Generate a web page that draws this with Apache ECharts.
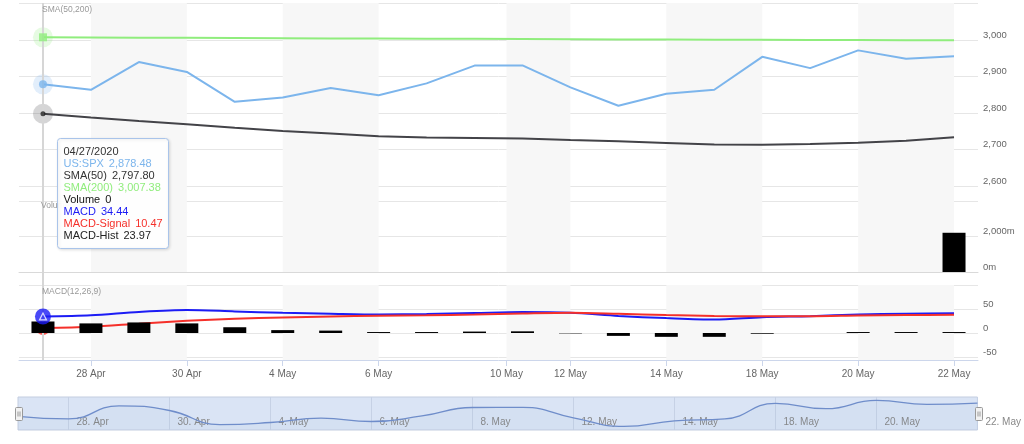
<!DOCTYPE html>
<html><head><meta charset="utf-8">
<script src="https://cdn.jsdelivr.net/npm/echarts@6/dist/echarts.min.js"></script>
<style>html,body{margin:0;padding:0;background:#fff}#c{width:1024px;height:444px}</style>
</head><body><div id="c"></div>
<script>
// ---------- data ----------
const dates = ['2020-04-27','2020-04-28','2020-04-29','2020-04-30','2020-05-01','2020-05-04','2020-05-05','2020-05-06','2020-05-07','2020-05-08','2020-05-11','2020-05-12','2020-05-13','2020-05-14','2020-05-15','2020-05-18','2020-05-19','2020-05-20','2020-05-21','2020-05-22'];
const spx = [2878.48,2863.39,2939.51,2912.43,2830.71,2842.74,2868.44,2848.42,2881.19,2929.80,2930.32,2870.12,2820.00,2852.50,2863.70,2953.91,2922.94,2971.61,2948.51,2955.45];
const sma50 = [2797.80,2787.9,2778.3,2769.2,2759.6,2750.8,2744.0,2736.0,2733.0,2731.6,2730.0,2726.0,2722.5,2718.0,2714.0,2713.0,2715.0,2718.7,2724.0,2733.5];
const sma200 = [3007.38,3006.9,3006.4,3005.9,3005.3,3004.9,3004.4,3004.0,3003.5,3003.1,3002.6,3002.2,3001.7,3001.3,3000.8,3000.4,3000.1,2999.7,2999.4,2999.0];
const volume = [0,0,0,0,0,0,0,0,0,0,0,0,0,0,0,0,0,0,0,2210]; // millions
const macd = [34.44,37,44,48,45,42,40,38.5,39.5,41.5,43.5,42,35.5,31,28,33,35,38.5,40,41];
const macdSignal = [10.47,13,19.5,25.5,29.5,32.5,34.5,36,37,38.5,40.5,42,40,37.5,35.5,35,35,36.5,37.5,38];
const macdHist = [23.97,20,22,20,12,6,5,2,2,3,3.5,-0.8,-6,-8,-8,-1.5,0,2,2,2];
const axisTickLabels = ['28 Apr','30 Apr','4 May','6 May','10 May','12 May','14 May','18 May','20 May','22 May'];
const navTickLabels = ['28. Apr','30. Apr','4. May','6. May','8. May','12. May','14. May','18. May','20. May','22. May'];
const priceLabels = [2600,2700,2800,2900,3000];
const volumeLabels = [0,2000];
const macdLabels = [-50,0,50];

// ---------- helpers ----------
const FONT = '"Liberation Sans", Arial, sans-serif';
const MONTHS = {Jan:0,Feb:1,Mar:2,Apr:3,May:4,Jun:5};
const dayMs = dates.map(d => Date.parse(d + 'T00:00:00Z'));
function ordinalPos(label){
  const p = label.replace('.', '').split(' ');
  const t = Date.UTC(2020, MONTHS[p[1]], +p[0]);
  for (let i = 0; i < dayMs.length; i++){
    if (dayMs[i] === t) return i;
    if (i < dayMs.length - 1 && t > dayMs[i] && t < dayMs[i+1]) return i + (t - dayMs[i]) / (dayMs[i+1] - dayMs[i]);
  }
  return 0;
}
const tickPos = axisTickLabels.map(ordinalPos);
const navPos = navTickLabels.map(ordinalPos);
function labelAt(list, pos, v){ let k = 0, b = 1e9; pos.forEach((p, i) => { const d = Math.abs(p - v); if (d < b){ b = d; k = i; } }); return list[k]; }
const bands = [];
for (let i = 0; i + 1 < tickPos.length; i += 2) bands.push([{xAxis: tickPos[i]}, {xAxis: tickPos[i+1]}]);
const xy = arr => arr.map((v, i) => [i, v]);
const f2 = v => v.toLocaleString('en-US', {minimumFractionDigits: 2, maximumFractionDigits: 2});
const fmtDate = d => { const p = d.split('-'); return p[1] + '/' + p[2] + '/' + p[0]; };

const hiddenX = g => ({type: 'value', gridIndex: g, min: -0.5, max: 19.5, show: false});
const hiddenY = g => ({type: 'value', gridIndex: g, min: 0, max: 1, show: false});
const yLabel = {color: '#666', fontSize: 9.5, fontFamily: FONT, margin: 5, verticalAlign: 'bottom'};
const L = 19, R = 46;

const chart = echarts.init(document.getElementById('c'));
const option = {
  animation: false,
  backgroundColor: '#fff',
  grid: [
    {left: L, right: R, top: 3, height: 269},
    {left: L, right: R, top: 285, height: 75},
    {left: L, right: R, top: 3, height: 357},
    {left: L, right: R, top: 3.5, height: 182.5},
    {left: L, right: R, top: 201, height: 71},
    {left: L, right: R, top: 285, height: 72},
    {left: 18, right: R, top: 397, height: 33, show: true, backgroundColor: '#dae4f5', borderColor: '#c3cde0', borderWidth: 1}
  ],
  xAxis: [
    hiddenX(0), hiddenX(1), hiddenX(2), hiddenX(3),
    {type: 'value', gridIndex: 4, min: -0.5, max: 19.5, axisLine: {show: true, onZero: false, lineStyle: {color: '#d9d9d9'}}, axisTick: {show: false}, axisLabel: {show: false}, splitLine: {show: false}},
    {type: 'value', gridIndex: 5, min: -0.5, max: 19.5, offset: 3,
      axisLine: {show: true, onZero: false, lineStyle: {color: '#ccd6eb'}},
      axisTick: {show: true, length: 6, customValues: tickPos, lineStyle: {color: '#ccd6eb'}},
      axisLabel: {customValues: tickPos, formatter: v => labelAt(axisTickLabels, tickPos, v), color: '#666', fontSize: 10, fontFamily: FONT, margin: 9},
      splitLine: {show: false}},
    {type: 'value', gridIndex: 6, min: 0, max: 19,
      axisLine: {show: false}, axisTick: {show: false, customValues: navPos},
      axisLabel: {inside: true, customValues: navPos, formatter: v => labelAt(navTickLabels, navPos, v), color: '#888', fontSize: 10, fontFamily: FONT, margin: 3, align: 'left', padding: [0, 0, 0, 8], verticalAlign: 'bottom'},
      splitLine: {show: true, lineStyle: {color: '#c6d1e5', width: 1}}}
  ],
  yAxis: [
    hiddenY(0), hiddenY(1), hiddenY(2),
    {type: 'value', gridIndex: 3, position: 'right', min: 2600, max: 3100, interval: 100,
      axisLine: {show: false}, axisTick: {show: false},
      splitLine: {lineStyle: {color: '#e6e6e6'}},
      axisLabel: Object.assign({customValues: priceLabels, formatter: v => v.toLocaleString('en-US')}, yLabel)},
    {type: 'value', gridIndex: 4, position: 'right', min: 0, max: 4000, interval: 2000,
      axisLine: {show: false}, axisTick: {show: false},
      splitLine: {lineStyle: {color: '#e6e6e6'}},
      axisLabel: Object.assign({customValues: volumeLabels, formatter: v => v.toLocaleString('en-US') + 'm'}, yLabel)},
    {type: 'value', gridIndex: 5, position: 'right', min: -50, max: 100, interval: 50,
      axisLine: {show: false}, axisTick: {show: false},
      splitLine: {lineStyle: {color: '#e6e6e6'}},
      axisLabel: Object.assign({customValues: macdLabels, formatter: v => String(v)}, yLabel)},
    {type: 'value', gridIndex: 6, min: 2799, max: 2991, show: false}
  ],
  series: [
    {type: 'line', xAxisIndex: 0, yAxisIndex: 0, data: [], silent: true, z: -5,
      markArea: {silent: true, itemStyle: {color: '#f7f7f7'}, data: bands}},
    {type: 'line', xAxisIndex: 1, yAxisIndex: 1, data: [], silent: true, z: -5,
      markArea: {silent: true, itemStyle: {color: '#f7f7f7'}, data: bands}},
    {type: 'line', xAxisIndex: 2, yAxisIndex: 2, data: [], silent: true, z: 1,
      markLine: {silent: true, symbol: ['none', 'none'], label: {show: false}, lineStyle: {color: '#d6d6d6', width: 2, type: 'solid'}, data: [{xAxis: 0}]}},
    {name: 'SMA(200)', type: 'line', xAxisIndex: 3, yAxisIndex: 3, data: xy(sma200), showSymbol: false, lineStyle: {color: '#90ed7d', width: 2}, z: 3},
    {name: 'US:SPX', type: 'line', xAxisIndex: 3, yAxisIndex: 3, data: xy(spx), showSymbol: false, lineStyle: {color: '#7cb5ec', width: 2}, z: 3},
    {name: 'SMA(50)', type: 'line', xAxisIndex: 3, yAxisIndex: 3, data: xy(sma50), showSymbol: false, lineStyle: {color: '#434348', width: 2}, z: 3},
    // hover halos + markers
    {type: 'scatter', xAxisIndex: 3, yAxisIndex: 3, symbolSize: 20, itemStyle: {color: 'rgba(144,237,125,0.28)'}, data: [[0, sma200[0]]], z: 4, silent: true},
    {type: 'scatter', xAxisIndex: 3, yAxisIndex: 3, symbol: 'rect', symbolSize: 8, itemStyle: {color: '#90ed7d'}, data: [[0, sma200[0]]], z: 5, silent: true},
    {type: 'scatter', xAxisIndex: 3, yAxisIndex: 3, symbolSize: 20, itemStyle: {color: 'rgba(124,181,236,0.28)'}, data: [[0, spx[0]]], z: 4, silent: true},
    {type: 'scatter', xAxisIndex: 3, yAxisIndex: 3, symbolSize: 8, itemStyle: {color: '#7cb5ec'}, data: [[0, spx[0]]], z: 5, silent: true},
    {type: 'scatter', xAxisIndex: 3, yAxisIndex: 3, symbolSize: 20, itemStyle: {color: 'rgba(67,67,72,0.28)'}, data: [[0, sma50[0]]], z: 4, silent: true},
    {type: 'scatter', xAxisIndex: 3, yAxisIndex: 3, symbolSize: 5, itemStyle: {color: '#222'}, data: [[0, sma50[0]]], z: 5, silent: true},
    {name: 'Volume', type: 'bar', xAxisIndex: 4, yAxisIndex: 4, data: xy(volume), barWidth: 23, itemStyle: {color: '#000'}, z: 3},
    {name: 'MACD', type: 'line', xAxisIndex: 5, yAxisIndex: 5, data: xy(macd), smooth: 0.3, showSymbol: false, lineStyle: {color: '#1c1cf5', width: 2}, z: 3},
    {name: 'MACD-Signal', type: 'line', xAxisIndex: 5, yAxisIndex: 5, data: xy(macdSignal), smooth: 0.3, showSymbol: false, lineStyle: {color: '#f5302a', width: 2}, z: 3},
    {type: 'scatter', xAxisIndex: 5, yAxisIndex: 5, symbolSize: 14, itemStyle: {color: '#f5302a'}, data: [[0, macdSignal[0]]], z: 4, silent: true},
    {name: 'MACD-Hist', type: 'bar', xAxisIndex: 5, yAxisIndex: 5, data: xy(macdHist), barWidth: 23, itemStyle: {color: '#000'}, z: 5},
    {type: 'scatter', xAxisIndex: 5, yAxisIndex: 5, symbolSize: 16, itemStyle: {color: '#1c1cf5'}, data: [[0, macd[0]]], z: 6, silent: true},
    {type: 'scatter', xAxisIndex: 5, yAxisIndex: 5, symbol: 'triangle', symbolSize: 7, itemStyle: {color: 'rgba(0,0,0,0)', borderColor: '#fff', borderWidth: 1.2}, data: [[0, macd[0]]], z: 7, silent: true},
    {name: 'Navigator', type: 'line', xAxisIndex: 6, yAxisIndex: 6, data: xy(spx), smooth: 0.5, showSymbol: false, lineStyle: {color: '#6f8dca', width: 1.3}, areaStyle: {color: 'rgba(102,133,194,0.06)'}, z: 3, silent: true}
  ]
};

// tooltip box (as real text)
const tipRows = [
  ['spx', 'US:SPX', f2(spx[0])],
  ['s50', 'SMA(50)', f2(sma50[0])],
  ['s200', 'SMA(200)', f2(sma200[0])],
  ['vol', 'Volume', String(volume[0])],
  ['macd', 'MACD', f2(macd[0])],
  ['sig', 'MACD-Signal', f2(macdSignal[0])],
  ['hist', 'MACD-Hist', f2(macdHist[0])]
];
const tipColors = {d: '#333', spx: '#7cb5ec', s50: '#333', s200: '#90ed7d', vol: '#111', macd: '#1c1cf5', sig: '#f5302a', hist: '#222'};
const rich = {};
Object.keys(tipColors).forEach(k => {
  rich[k] = {fill: tipColors[k], fontSize: 11, fontFamily: FONT, lineHeight: 12.1};
  rich[k + 'v'] = {fill: tipColors[k], fontSize: 11, fontFamily: FONT, lineHeight: 12.1, padding: [0, 0, 0, 5]};
});
const tipText = ['{d|' + fmtDate(dates[0]) + '}']
  .concat(tipRows.map(r => '{' + r[0] + '|' + r[1] + '}{' + r[0] + 'v|' + r[2] + '}')).join('\n');

option.graphic = [
  {type: 'group', left: 57, top: 138, z: 100, children: [
    {type: 'rect', z: 100, shape: {x: 0, y: 0, width: 111, height: 110, r: 3},
      style: {fill: 'rgba(255,255,255,0.96)', stroke: '#a9c4ea', lineWidth: 1, shadowBlur: 3, shadowColor: 'rgba(0,0,0,0.12)', shadowOffsetX: 1, shadowOffsetY: 1}},
    {type: 'text', z: 101, x: 6, y: 7, style: {text: tipText, rich: rich}}
  ]},
  {type: 'text', left: 42, top: 5, z: 50, style: {text: 'SMA(50,200)', fill: '#999', fontSize: 8.5, fontFamily: FONT}},
  {type: 'text', left: 41, top: 201, z: 50, style: {text: 'Volume', fill: '#999', fontSize: 8.5, fontFamily: FONT}},
  {type: 'text', left: 42, top: 287, z: 50, style: {text: 'MACD(12,26,9)', fill: '#999', fontSize: 8.5, fontFamily: FONT}},
  {type: 'group', left: 15, top: 407, z: 60, children: [
    {type: 'rect', z: 60, shape: {x: 0, y: 0, width: 7, height: 13, r: 1}, style: {fill: '#f2f2f2', stroke: '#999', lineWidth: 1}},
    {type: 'line', z: 61, shape: {x1: 2.5, y1: 4, x2: 2.5, y2: 9}, style: {stroke: '#999', lineWidth: 1}},
    {type: 'line', z: 61, shape: {x1: 4.5, y1: 4, x2: 4.5, y2: 9}, style: {stroke: '#999', lineWidth: 1}}
  ]},
  {type: 'group', left: 975, top: 407, z: 60, children: [
    {type: 'rect', z: 60, shape: {x: 0, y: 0, width: 7, height: 13, r: 1}, style: {fill: '#f2f2f2', stroke: '#999', lineWidth: 1}},
    {type: 'line', z: 61, shape: {x1: 2.5, y1: 4, x2: 2.5, y2: 9}, style: {stroke: '#999', lineWidth: 1}},
    {type: 'line', z: 61, shape: {x1: 4.5, y1: 4, x2: 4.5, y2: 9}, style: {stroke: '#999', lineWidth: 1}}
  ]}
];
chart.setOption(option);
</script></body></html>
